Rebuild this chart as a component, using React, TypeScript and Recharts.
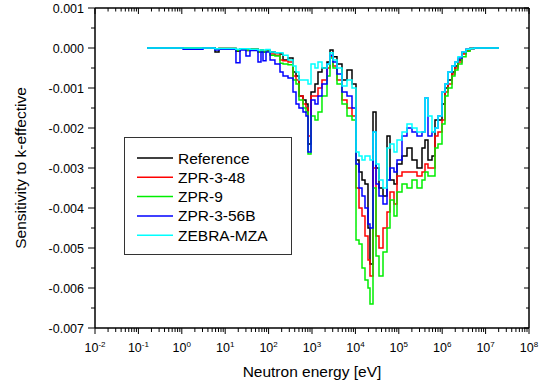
import React from 'react';
import { LineChart, Line, XAxis, YAxis, Legend } from 'recharts';

// group lower bounds in eV (last entry closes the final group)
const energies = [
  0.158, 1.07, 3.08, 5.82, 7.2, 17.7, 21.9, 30.1, 37.2, 57, 66.8, 74.3, 87.1, 108, 140, 183, 215, 280,
  365, 428, 501, 621, 727, 809, 949, 1172, 1374, 1698, 2217, 2600, 3048, 3767, 4911, 6402, 8350,
  10330, 12110, 14200, 16640, 19510, 21690, 25450, 29840, 34980, 43260, 53480, 62700, 77520, 90880,
  118500, 154500, 201400, 262600, 342300, 401300, 470400, 582000, 682300, 799900, 989600,
  1.16e6, 1.36e6, 1.682e6, 1.972e6, 2.312e6, 2.86e6, 3.54e6, 4.37e6, 5.41e6, 2.04e7,
];

const reference = [
  0, 0, 0, -0.0001, -0.00001, -0.00008, -0.00002, -0.00006, -0.00003, -0.0001, -0.00005, -0.0001,
  -0.00006, -0.0001, -0.00012, -0.00015, -0.0003, -0.00025, -0.0006, -0.0007, -0.0012, -0.0013,
  -0.0014, -0.0024, -0.0011, -0.0009, -0.0006, -0.0005, -0.00035, -0.00005, -0.00022, -0.0004,
  -0.0008, -0.00055, -0.0009, -0.0028, -0.0031, -0.0033, -0.0034, -0.0045, -0.0054, -0.0016,
  -0.003, -0.0035, -0.0037, -0.0022, -0.0033, -0.0034, -0.0029, -0.0027, -0.0025, -0.0028, -0.003,
  -0.0025, -0.0023, -0.0028, -0.0027, -0.0018, -0.0018, -0.0014, -0.001, -0.0008, -0.0006,
  -0.00045, -0.0003, -0.00012, -0.00004, -0.00001, 0, 0,
];

const zpr348 = [
  0, 0, 0, -0.00002, -0.00001, -0.00006, -0.00002, -0.00005, -0.00003, -0.0001, -0.00005, -0.00008,
  -0.00008, -0.00015, -0.00018, -0.0003, -0.00032, -0.00035, -0.0007, -0.0008, -0.0012, -0.0014,
  -0.0015, -0.0022, -0.0012, -0.0012, -0.001, -0.0008, -0.0005, -0.00022, -0.00045, -0.0008,
  -0.0013, -0.0015, -0.0017, -0.0035, -0.004, -0.0042, -0.0047, -0.0053, -0.0057, -0.003, -0.0047,
  -0.005, -0.0045, -0.0041, -0.0036, -0.0039, -0.0032, -0.0031, -0.0031, -0.0031, -0.0032, -0.0031,
  -0.0029, -0.003, -0.003, -0.0022, -0.0021, -0.0018, -0.0011, -0.0009, -0.00065, -0.0005,
  -0.00035, -0.00015, -0.00006, -0.00001, 0, 0,
];

const zpr9 = [
  0, 0, 0, -0.00002, -0.00001, -0.00006, -0.00002, -0.00005, -0.00003, -0.0001, -0.00005, -0.0001,
  -0.00008, -0.00018, -0.0002, -0.00038, -0.0004, -0.00042, -0.0008, -0.0009, -0.0013, -0.0015,
  -0.0016, -0.00265, -0.0017, -0.0018, -0.0016, -0.0012, -0.0007, -0.00025, -0.0005, -0.0009,
  -0.0014, -0.0017, -0.0018, -0.0048, -0.0049, -0.0055, -0.0058, -0.006, -0.0064, -0.0035, -0.0052,
  -0.0057, -0.0051, -0.0045, -0.0038, -0.0042, -0.0036, -0.0034, -0.0035, -0.0033, -0.0035, -0.0033,
  -0.0031, -0.0032, -0.0032, -0.0025, -0.0024, -0.0019, -0.0012, -0.001, -0.0007, -0.00055,
  -0.0004, -0.00022, -0.00008, -0.00001, 0, 0,
];

const zpr356b = [
  0, -0.00003, 0, -0.00005, -0.00003, -0.00037, -0.00005, -0.0002, -0.00006, -0.00035, -0.0001,
  -0.00032, -0.0001, -0.0003, -0.0004, -0.0006, -0.0007, -0.00075, -0.0011, -0.0014, -0.0015,
  -0.0016, -0.0017, -0.0026, -0.0013, -0.0014, -0.0012, -0.0009, -0.0004, -0.00018, -0.00035,
  -0.00065, -0.0011, -0.0012, -0.0015, -0.0029, -0.0035, -0.0037, -0.004, -0.0044, -0.0045,
  -0.0021, -0.0034, -0.0037, -0.0039, -0.0033, -0.003, -0.0031, -0.0028, -0.0022, -0.002, -0.0021,
  -0.0022, -0.0021, -0.00125, -0.0022, -0.0021, -0.002, -0.0017, -0.0011, -0.0009, -0.0006,
  -0.00045, -0.00035, -0.00025, -0.0001, -0.00003, -0.00001, 0, 0,
];

const zebraMza = [
  0, 0, 0, -0.00002, -0.00001, -0.00003, -0.00002, -0.00002, -0.00003, -0.00005, -0.00005, -0.00005,
  -0.00004, -0.0001, -0.00012, -0.00012, -0.00018, -0.0003, -0.00045, -0.0006, -0.0008, -0.0008,
  -0.0008, -0.0009, -0.0004, -0.0005, -0.00035, -0.0005, -0.0004, -0.00012, -0.0003, -0.0005,
  -0.00095, -0.0008, -0.001, -0.0026, -0.0027, -0.0028, -0.0027, -0.0027, -0.0028, -0.0021,
  -0.0029, -0.0033, -0.0035, -0.0025, -0.0024, -0.0026, -0.0023, -0.0021, -0.0019, -0.002, -0.0021,
  -0.0021, -0.00125, -0.0017, -0.0021, -0.002, -0.0017, -0.0011, -0.0009, -0.0006, -0.00045,
  -0.00035, -0.00022, -0.0001, -0.00003, -0.00001, 0, 0,
];

const xExponents = [-2, -1, 0, 1, 2, 3, 4, 5, 6, 7, 8];
const yTicks = [
  0.001, 0.0005, 0, -0.0005, -0.001, -0.0015, -0.002, -0.0025, -0.003, -0.0035, -0.004, -0.0045,
  -0.005, -0.0055, -0.006, -0.0065, -0.007,
];

const seriesNames = ['Reference', 'ZPR-3-48', 'ZPR-9', 'ZPR-3-56B', 'ZEBRA-MZA'];
const seriesColors = ['#000000', '#ff0000', '#00ee00', '#0000ff', '#00ffff'];
const seriesKeys = ['ref', 'zpr348', 'zpr9', 'zpr356b', 'zebra'];

const data = energies.map((e, i) => ({
  e,
  ref: reference[i],
  zpr348: zpr348[i],
  zpr9: zpr9[i],
  zpr356b: zpr356b[i],
  zebra: zebraMza[i],
}));

const xTicks: number[] = [];
xExponents.forEach((p) => {
  const base = Math.pow(10, p);
  xTicks.push(base);
  if (p < 8) for (let m = 2; m <= 9; m++) xTicks.push(m * base);
});

const isMajorX = (v: number) => {
  const l = Math.log10(v);
  return Math.abs(l - Math.round(l)) < 1e-6;
};
const isMajorY = (v: number) => Math.abs(v * 1000 - Math.round(v * 1000)) < 1e-6;

const BottomTick = ({ x, y, payload }: any) => {
  const major = isMajorX(payload.value);
  return (
    <g>
      <line x1={x} x2={x} y1={y} y2={y + (major ? 6 : 4)} stroke="#000" strokeWidth={1} />
      {major && (
        <text x={x} y={y + 24} textAnchor="middle" fontSize={12.5} fill="#000">
          10
          <tspan dy={-5} fontSize={8}>
            {Math.round(Math.log10(payload.value))}
          </tspan>
        </text>
      )}
    </g>
  );
};

const TopTick = ({ x, y, payload }: any) => {
  const major = isMajorX(payload.value);
  return <line x1={x} x2={x} y1={y} y2={y + (major ? 6 : 3.5)} stroke="#000" strokeWidth={1} />;
};

const LeftTick = ({ x, y, payload }: any) => {
  const major = isMajorY(payload.value);
  return (
    <g>
      <line x1={x - (major ? 7 : 4)} x2={x} y1={y} y2={y} stroke="#000" strokeWidth={1} />
      {major && (
        <text x={x - 11} y={y + 4.5} textAnchor="end" fontSize={12.5} fill="#000">
          {payload.value.toFixed(3)}
        </text>
      )}
    </g>
  );
};

const RightTick = ({ x, y, payload }: any) => {
  const major = isMajorY(payload.value);
  return <line x1={x - (major ? 5 : 3)} x2={x} y1={y} y2={y} stroke="#000" strokeWidth={1} />;
};

const renderLegend = () => (
  <svg width={168} height={118}>
    <rect x={0.5} y={0.5} width={167} height={117} fill="#fff" stroke="#333" strokeWidth={1} />
    {seriesNames.map((name, i) => {
      const cy = 21 + i * 19.3;
      return (
        <g key={name}>
          <line x1={13} x2={49} y1={cy} y2={cy} stroke={seriesColors[i]} strokeWidth={1.5} />
          <text x={54} y={cy + 5.5} fontSize={15.5} fill="#000">
            {name}
          </text>
        </g>
      );
    })}
  </svg>
);

export default function App() {
  return (
    <div
      style={{
        position: 'absolute',
        left: 0,
        top: 0,
        width: 547,
        height: 385,
        background: '#fff',
        fontFamily: '"Liberation Sans", Arial, sans-serif',
      }}
    >
      <LineChart width={547} height={385} data={data} margin={{ top: 6, right: 8, bottom: 0, left: 0 }}>
        <XAxis
          xAxisId="b"
          dataKey="e"
          type="number"
          scale="log"
          domain={[0.01, 1e8]}
          allowDataOverflow
          ticks={xTicks}
          interval={0}
          tickSize={0}
          tickMargin={0}
          tickLine={false}
          tick={<BottomTick />}
          height={57}
          axisLine={{ stroke: '#000', strokeWidth: 1.5 }}
          label={{
            value: 'Neutron energy [eV]',
            position: 'insideBottom',
            offset: 8,
            style: { fontSize: 15.5, fill: '#000' },
          }}
        />
        <XAxis
          xAxisId="t"
          orientation="top"
          dataKey="e"
          type="number"
          scale="log"
          domain={[0.01, 1e8]}
          allowDataOverflow
          ticks={xTicks}
          interval={0}
          tickSize={0}
          tickMargin={0}
          tickLine={false}
          tick={<TopTick />}
          height={2}
          axisLine={{ stroke: '#000', strokeWidth: 1.5 }}
        />
        <YAxis
          yAxisId="l"
          type="number"
          domain={[-0.007, 0.001]}
          allowDataOverflow
          ticks={yTicks}
          interval={0}
          tickSize={0}
          tickMargin={0}
          tickLine={false}
          tick={<LeftTick />}
          width={95}
          axisLine={{ stroke: '#000', strokeWidth: 1.5 }}
          label={{
            value: 'Sensitivity to k-effective',
            angle: -90,
            position: 'insideLeft',
            offset: 20,
            style: { textAnchor: 'middle', fontSize: 15.5, fill: '#000' },
          }}
        />
        <YAxis
          yAxisId="r"
          orientation="right"
          type="number"
          domain={[-0.007, 0.001]}
          allowDataOverflow
          ticks={yTicks}
          interval={0}
          tickSize={0}
          tickMargin={0}
          tickLine={false}
          tick={<RightTick />}
          width={10}
          axisLine={{ stroke: '#000', strokeWidth: 1.5 }}
        />
        <Legend
          layout="vertical"
          align="center"
          verticalAlign="middle"
          content={renderLegend}
          wrapperStyle={{ left: 124, top: 137, width: 168, height: 118 }}
        />
        {seriesKeys.map((k, i) => (
          <Line
            key={k}
            xAxisId="b"
            yAxisId="l"
            type="stepAfter"
            dataKey={k}
            name={seriesNames[i]}
            stroke={seriesColors[i]}
            strokeWidth={1.5}
            dot={false}
            activeDot={false}
            isAnimationActive={false}
          />
        ))}
      </LineChart>
    </div>
  );
}
